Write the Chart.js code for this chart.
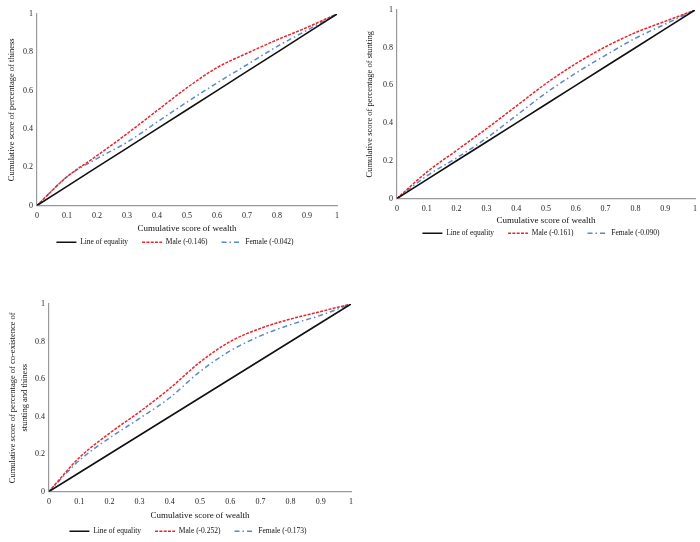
<!DOCTYPE html>
<html>
<head>
<meta charset="utf-8">
<script src="https://cdn.jsdelivr.net/npm/chart.js@4.4.1/dist/chart.umd.min.js"></script>
<style>
html, body { margin: 0; padding: 0; background: #fff; overflow: hidden; width: 700px; height: 542px; }
.panel { position: absolute; }
</style>
</head>
<body>
<div class="panel" style="left:0;top:0;width:345px;height:256px"><canvas id="thin-chart"></canvas></div>
<div class="panel" style="left:358px;top:0;width:345px;height:247px"><canvas id="stunt-chart"></canvas></div>
<div class="panel" style="left:0;top:290px;width:359px;height:255px"><canvas id="both-chart"></canvas></div>
<script>
// cumulative score of wealth (x) and line of equality
const wealth = [0, 0.1, 0.2, 0.3, 0.4, 0.5, 0.6, 0.7, 0.8, 0.9, 1];
const equality = [0, 0.1, 0.2, 0.3, 0.4, 0.5, 0.6, 0.7, 0.8, 0.9, 1];

// thinness
const thinMale = [0, 0.15, 0.26, 0.375, 0.495, 0.615, 0.72, 0.795, 0.865, 0.93, 1];
const thinFemale = [0, 0.15, 0.245, 0.33, 0.435, 0.54, 0.64, 0.735, 0.83, 0.915, 1];

// stunting
const stuntMale = [0, 0.14, 0.255, 0.37, 0.49, 0.61, 0.715, 0.805, 0.88, 0.94, 1];
const stuntFemale = [0, 0.12, 0.215, 0.32, 0.44, 0.56, 0.665, 0.76, 0.85, 0.925, 1];

// co-existence of stunting and thinness
const bothMale = [0, 0.18, 0.31, 0.425, 0.55, 0.69, 0.80, 0.87, 0.92, 0.96, 1];
const bothFemale = [0, 0.165, 0.285, 0.39, 0.50, 0.64, 0.75, 0.83, 0.89, 0.94, 1];

const FONT = 'Liberation Serif';

const toPoints = (ys) => ys.map((y, i) => ({ x: wealth[i], y }));
const tickLabel = (value) => String(parseFloat(value.toFixed(1)));

// legend samples should keep the dash pattern of each line
const legendLabels = (chart) => {
    const items = Chart.defaults.plugins.legend.labels.generateLabels(chart);
    items.forEach(item => {
        const ds = chart.data.datasets[item.datasetIndex];
        item.lineDash = ds.borderDash || [];
        item.lineWidth = ds.borderWidth;
        item.strokeStyle = ds.borderColor;
    });
    return items;
};

const makeChart = (canvasId, cfg) => {
    const ctx = document.getElementById(canvasId).getContext('2d');
    return new Chart(ctx, {
        type: 'line',
        data: {
            datasets: [
                {
                    label: 'Line of equality',
                    data: toPoints(equality),
                    borderColor: '#111',
                    borderWidth: 1.6,
                    pointRadius: 0
                },
                {
                    label: cfg.maleLabel,
                    data: toPoints(cfg.male),
                    borderColor: '#e8262b',
                    borderWidth: 1.5,
                    borderDash: [3, 1.3],
                    cubicInterpolationMode: 'monotone',
                    pointRadius: 0
                },
                {
                    label: cfg.femaleLabel,
                    data: toPoints(cfg.female),
                    borderColor: '#5a8ac6',
                    borderWidth: 1.5,
                    borderDash: [5, 3, 1.5, 3],
                    cubicInterpolationMode: 'monotone',
                    pointRadius: 0
                }
            ]
        },
        options: {
            responsive: true,
            maintainAspectRatio: false,
            animation: false,
            layout: { padding: { top: cfg.padTop, right: 0, left: cfg.padLeft, bottom: 0 } },
            plugins: {
                tooltip: { enabled: false },
                legend: {
                    position: 'bottom',
                    labels: {
                        usePointStyle: true,
                        pointStyle: 'line',
                        pointStyleWidth: 20,
                        boxHeight: 8,
                        padding: 14,
                        color: '#111',
                        font: { family: FONT, size: 7.5 },
                        generateLabels: legendLabels
                    }
                }
            },
            scales: {
                x: {
                    type: 'linear',
                    min: 0,
                    max: 1,
                    grid: { display: false, drawTicks: false },
                    border: { color: '#999', width: 1.2 },
                    ticks: { stepSize: 0.1, padding: 6, color: '#222', font: { family: FONT, size: 8 }, callback: tickLabel },
                    title: {
                        display: true,
                        text: 'Cumulative score of wealth',
                        color: '#111',
                        font: { family: FONT, size: 9 },
                        padding: { top: 0, bottom: cfg.titlePadBottom }
                    },
                    afterFit: (axis) => { axis.height = cfg.xHeight; }
                },
                y: {
                    min: 0,
                    max: 1,
                    grid: { display: false, drawTicks: false },
                    border: { color: '#999', width: 1.2 },
                    ticks: { stepSize: 0.2, padding: 4, color: '#222', font: { family: FONT, size: 8 }, callback: tickLabel },
                    title: {
                        display: true,
                        text: cfg.yTitle,
                        color: '#111',
                        font: { family: FONT, size: 8.5, lineHeight: 1.4 },
                        padding: { top: cfg.yTitlePad, bottom: 0 }
                    },
                    afterFit: (axis) => { axis.width = cfg.yWidth; }
                }
            }
        }
    });
};

makeChart('thin-chart', {
    male: thinMale, female: thinFemale,
    maleLabel: 'Male (-0.146)', femaleLabel: 'Female (-0.042)',
    yTitle: 'Cumulative score of percentage of thiness',
    padLeft: 5, yWidth: 32, yTitlePad: 1,
    xHeight: 19, titlePadBottom: -9.4, padTop: 14
});

makeChart('stunt-chart', {
    male: stuntMale, female: stuntFemale,
    maleLabel: 'Male (-0.161)', femaleLabel: 'Female (-0.090)',
    yTitle: 'Cumulative score of percentage of stunting',
    padLeft: 21, yWidth: 18, yTitlePad: -15,
    xHeight: 17, titlePadBottom: -10.4, padTop: 10
});

makeChart('both-chart', {
    male: bothMale, female: bothFemale,
    maleLabel: 'Male (-0.252)', femaleLabel: 'Female (-0.173)',
    yTitle: ['Cumulative score of percentage of co-existence of', 'stunting and thiness'],
    padLeft: 17, yWidth: 32, yTitlePad: -10,
    xHeight: 22, titlePadBottom: -7.4, padTop: 14
});
</script>
</body>
</html>
